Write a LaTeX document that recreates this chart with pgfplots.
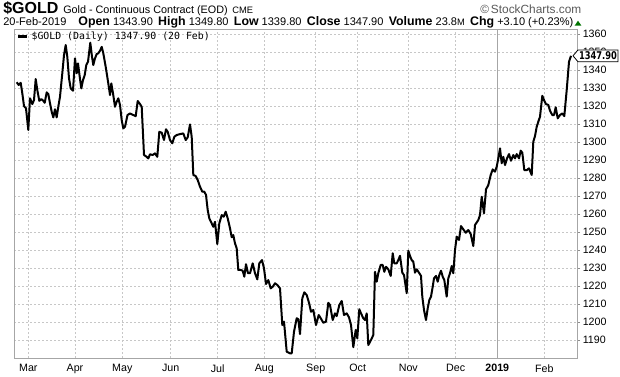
\documentclass[border=0pt]{standalone}
\usepackage{fontspec}
\setmainfont{Liberation Sans}
\newfontfamily\mono{DejaVu Sans Mono}
\newfontfamily\tagfont{DejaVu Sans}
\usepackage{graphicx}
\usepackage{pgfplots}
\usepackage{pgfplotstable}
\pgfplotsset{compat=1.18}
\usetikzlibrary{shapes.symbols}

% x = chart position (trading-day scale), y = close
\pgfplotstableread{
x y
16.7 1333.2
18.7 1331.7
20.7 1332.9
22.3 1327.1
24.0 1320.0
26.0 1318.7
28.3 1306.7
30.0 1324.3
32.3 1321.1
34.0 1323.3
35.7 1335.0
37.3 1328.9
39.3 1322.9
41.3 1323.9
43.3 1322.9
44.7 1321.8
46.7 1327.6
48.3 1326.7
50.0 1321.5
51.7 1316.8
53.3 1313.7
55.0 1318.2
56.7 1313.7
58.3 1319.6
60.0 1325.2
62.3 1338.2
64.0 1348.3
65.7 1353.9
67.3 1347.4
69.0 1335.4
70.7 1329.8
73.0 1328.5
75.0 1346.5
76.7 1338.2
78.0 1343.7
79.7 1336.3
81.3 1329.8
83.0 1334.4
84.7 1337.2
86.3 1342.8
88.0 1344.6
90.3 1355.2
92.0 1347.4
93.3 1342.8
95.0 1346.5
96.7 1348.9
98.3 1349.3
100.0 1350.7
101.7 1352.9
103.3 1349.3
105.7 1341.8
108.3 1332.6
110.0 1326.1
111.3 1332.6
113.0 1327.1
115.0 1319.6
116.7 1322.4
118.3 1324.3
120.0 1320.6
121.7 1312.2
123.3 1307.6
125.0 1308.5
127.5 1315.0
130.0 1315.9
133.3 1315.0
135.7 1314.4
137.7 1322.8
140.0 1321.1
141.7 1319.6
144.0 1292.8
146.7 1291.8
148.3 1290.9
150.0 1293.2
152.7 1292.8
155.0 1293.7
157.3 1291.8
159.3 1305.7
161.7 1305.2
164.0 1301.1
166.0 1307.1
167.7 1305.7
170.0 1301.1
172.3 1299.3
174.3 1302.9
176.7 1303.9
180.0 1304.4
183.3 1304.8
185.7 1301.1
187.7 1302.6
190.0 1309.8
191.7 1302.9
193.3 1281.7
195.7 1281.1
197.7 1278.9
200.0 1275.2
202.3 1272.4
204.3 1272.4
206.0 1270.6
207.7 1262.2
209.3 1257.6
211.7 1254.8
213.3 1252.9
215.0 1255.7
217.3 1243.3
219.3 1254.8
221.7 1259.4
223.7 1258.5
225.7 1261.3
227.7 1257.6
230.0 1252.1
231.7 1247.1
233.3 1248.3
235.0 1243.7
236.7 1240.9
238.3 1228.9
240.5 1229.0
242.7 1228.5
244.3 1225.2
246.0 1232.1
248.0 1227.1
250.0 1227.1
252.7 1232.6
255.0 1227.1
257.3 1223.7
259.3 1232.6
262.0 1234.4
264.0 1229.8
266.0 1221.1
268.3 1223.3
270.7 1218.7
272.7 1219.6
275.0 1221.5
277.3 1220.6
280.0 1218.7
282.3 1198.3
284.0 1200.2
286.7 1183.5
290.0 1182.6
291.7 1182.6
294.0 1194.6
296.7 1202.1
298.3 1201.5
300.0 1193.3
302.3 1213.2
304.3 1216.5
306.7 1215.0
309.0 1210.7
311.0 1205.7
313.3 1206.7
316.0 1198.3
318.7 1203.9
320.7 1202.1
323.3 1199.6
326.0 1200.2
328.3 1210.7
330.0 1209.4
332.7 1201.1
335.0 1204.8
336.7 1203.3
339.3 1209.4
341.7 1211.7
344.0 1203.9
346.7 1204.8
349.0 1202.6
351.0 1198.3
353.3 1186.0
355.7 1195.6
357.3 1190.9
359.3 1207.1
361.0 1204.8
363.3 1202.1
365.0 1201.1
366.7 1204.8
368.3 1187.2
371.0 1190.0
373.3 1192.8
375.0 1227.9
376.7 1222.4
378.3 1227.1
380.7 1231.7
382.7 1231.7
384.3 1227.9
386.0 1230.7
388.3 1229.3
390.7 1225.6
392.7 1238.2
394.3 1232.6
396.7 1232.6
398.3 1234.4
400.0 1236.8
402.3 1227.4
404.0 1226.1
406.7 1216.0
408.3 1239.6
410.0 1236.7
411.7 1234.4
413.3 1233.5
415.0 1227.4
416.7 1229.3
419.0 1227.4
421.0 1225.6
422.3 1214.1
424.0 1206.7
426.0 1201.1
427.7 1207.6
429.3 1212.2
431.0 1214.1
432.7 1219.6
434.0 1224.3
436.0 1225.6
437.7 1222.4
439.3 1226.1
441.0 1228.5
442.7 1225.2
444.3 1223.3
446.7 1214.1
448.3 1224.3
450.0 1227.1
451.7 1231.1
453.3 1227.1
455.0 1240.0
456.7 1247.4
459.0 1245.6
461.0 1253.3
463.3 1251.5
465.7 1249.6
468.3 1251.1
470.7 1248.9
473.3 1242.2
475.0 1253.9
478.3 1256.7
480.0 1259.4
481.7 1269.6
484.0 1260.4
486.0 1273.7
488.3 1276.1
490.7 1281.7
492.7 1284.8
495.0 1283.5
496.7 1286.3
498.3 1290.9
500.0 1296.5
501.7 1288.2
503.3 1291.8
505.0 1287.2
507.0 1290.9
509.0 1293.3
511.0 1289.6
513.3 1292.8
515.0 1290.9
516.7 1293.3
519.0 1290.9
520.7 1295.2
522.3 1294.1
524.3 1284.4
526.7 1284.4
529.0 1285.4
531.7 1281.7
533.3 1300.2
535.0 1303.3
536.7 1308.5
538.3 1311.3
540.0 1314.1
542.3 1325.7
544.0 1323.3
546.0 1321.1
548.3 1320.6
550.0 1317.4
552.3 1315.0
554.0 1315.0
555.7 1319.3
557.7 1313.2
560.0 1315.0
562.3 1315.9
564.3 1314.4
566.7 1328.9
569.0 1344.6
571.0 1347.9
}\gold

% header helpers: x in image pixels
\newcommand\hdr[3]{\node[anchor=base west, inner sep=0] at (#1*0.75pt,-#2*0.75pt) {#3};}
\newcommand\num{\fontsize{8.3}{9}\selectfont}
\newcommand\lab{\bfseries\fontsize{9.3}{10}\selectfont}

\begin{document}
\begin{tikzpicture}
\useasboundingbox (0,0) rectangle (465pt,-282pt);

% header line 1
\hdr{3}{13.6}{\bfseries\fontsize{12}{13}\selectfont \$GOLD}
\hdr{63}{13.6}{\fontsize{8.1}{9}\selectfont Gold - Continuous Contract (EOD)}
\hdr{232}{13.6}{\fontsize{7}{8}\selectfont CME}
\hdr{480}{13.6}{\color{black!65}\fontsize{8.9}{9}\selectfont \textcopyright\,StockCharts.com}
% header line 2, squeezed to the reference's width
\hdr{3}{25.6}{\resizebox{427.5pt}{\height}{\num 20-Feb-2019\hspace{9pt}{\lab Open} 1343.90\hspace{4pt}{\lab High} 1349.80\hspace{4pt}{\lab Low} 1339.80\hspace{4pt}{\lab Close} 1347.90\hspace{4pt}{\lab Volume} 23.8{\fontsize{7}{8}\selectfont M}\hspace{4pt}{\lab Chg} +3.10 (+0.23\%)}}
\fill[green!45!black] (431pt,-19.2pt) -- (436pt,-19.2pt) -- (433.5pt,-15.5pt) -- cycle;

\begin{axis}[
  at={(10.5pt,-268.5pt)}, anchor=south west,
  scale only axis, width=422.25pt, height=246.75pt,
  xmin=14, xmax=577, ymin=1180, ymax=1362.8,
  axis line style={draw=black!35, line width=0.6pt},
  xtick={28.3,75,122.3,170.7,217.7,264.3,315.7,357.7,408.3,455.7,497.3,544.3},
  xticklabels={Mar,Apr,May,Jun,Jul,Aug,Sep,Oct,Nov,Dec,\textbf{2019},Feb},
  ytick={1190,1200,...,1360},
  ytick pos=right, yticklabel pos=right,
  xtick style={draw=none},
  ytick style={draw=black!45, line width=0.5pt},
  tick align=outside, major tick length=2.3pt,
  grid=major,
  major grid style={draw=black!22, dash pattern=on 1.5pt off 1.5pt, line width=0.45pt},
  /pgf/number format/assume math mode=true,
  /pgf/number format/1000 sep={},
  yticklabel style={font=\fontsize{8}{9}\selectfont, xshift=-1.5pt},
  xticklabel style={font=\fontsize{8}{9}\selectfont, yshift=1pt},
]
\draw[black!35, line width=0.6pt] (axis cs:497.3,1180) -- (axis cs:497.3,1362.8);
\addplot[black, line width=1.5pt, line join=round, mark=none] table[x=x,y=y]{\gold};
\coordinate (tagpt) at (axis cs:572.5,1347.9);
\end{axis}

\node[signal, signal to=west, signal pointer angle=100, draw=black, fill=white, line width=0.6pt,
      inner xsep=0.8pt, inner ysep=1.4pt, anchor=west]
  at (tagpt) {\scalebox{0.78}[1]{\tagfont\bfseries\fontsize{8}{9}\selectfont 1347.90}};

% legend
\draw[black, line width=1.6pt] (13.5pt,-27.4pt) -- (20.5pt,-27.4pt);
\node[anchor=west, inner sep=0] at (23.5pt,-27.4pt) {\mono\fontsize{7.4}{8}\selectfont \$GOLD (Daily) 1347.90 (20 Feb)};
\end{tikzpicture}
\end{document}
